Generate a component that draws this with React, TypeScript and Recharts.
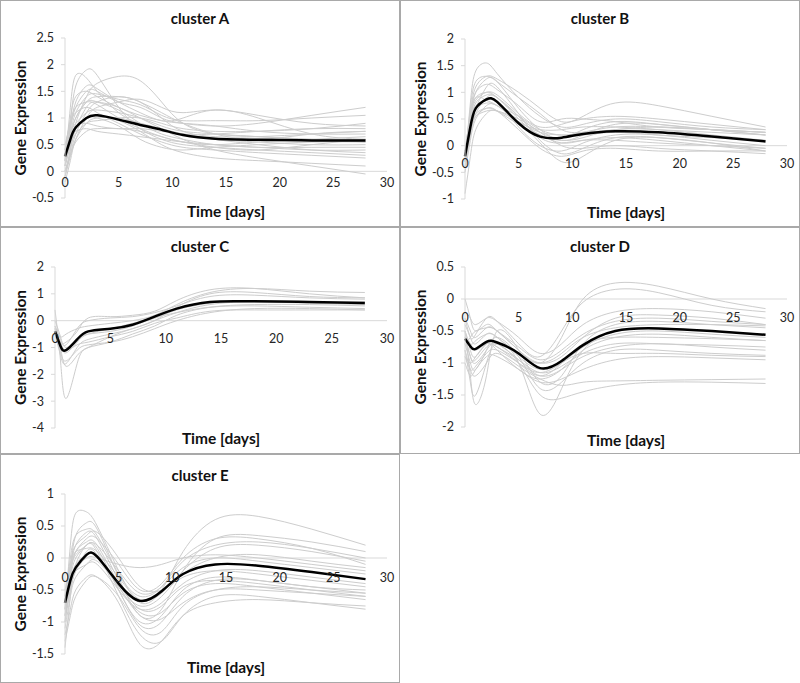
import { LineChart, Line, XAxis, YAxis, ReferenceLine, ReferenceDot } from "recharts";

// sampling days shared by every curve
const days = [0, 0.5, 1, 2, 3, 5, 7, 9, 11, 14, 18, 23, 28];
const dayTicks = [0, 5, 10, 15, 20, 25, 30];

// cluster A
const ticksA = [-0.5, 0, 0.5, 1, 1.5, 2, 2.5];
const meanA = [0.28, 0.6, 0.82, 1.0, 1.05, 0.97, 0.87, 0.78, 0.68, 0.61, 0.59, 0.58, 0.58];
const genesA = [
  [0.1, 0.9, 1.6, 1.9, 1.8, 1.2, 0.8, 0.6, 0.5, 0.45, 0.4, 0.35, 0.3],
  [0.2, 1.2, 1.8, 1.75, 1.5, 1.1, 0.9, 0.8, 0.7, 0.6, 0.55, 0.5, 0.5],
  [0, 0.4, 0.9, 1.4, 1.65, 1.78, 1.7, 1.3, 0.9, 0.7, 0.65, 0.6, 0.6],
  [0.3, 0.8, 1.2, 1.5, 1.5, 1.3, 1.2, 1.0, 0.9, 0.85, 0.9, 1.05, 1.2],
  [0.2, 0.7, 1.1, 1.4, 1.45, 1.35, 1.25, 1.05, 0.95, 0.95, 0.95, 1.0, 1.05],
  [-0.2, 0.2, 0.6, 1.0, 1.2, 1.3, 1.35, 1.2, 1.1, 1.15, 1.05, 0.9, 0.85],
  [0.1, 0.6, 1.0, 1.3, 1.3, 1.15, 0.9, 0.7, 0.6, 0.5, 0.45, 0.4, 0.4],
  [0.4, 0.9, 1.2, 1.3, 1.25, 1.0, 0.8, 0.65, 0.55, 0.5, 0.55, 0.6, 0.65],
  [0, 0.3, 0.6, 0.9, 1.0, 1.0, 0.9, 0.8, 0.7, 0.7, 0.75, 0.8, 0.8],
  [0.3, 0.7, 0.9, 1.1, 1.15, 1.1, 1.0, 0.85, 0.75, 0.7, 0.65, 0.6, 0.55],
  [0.5, 0.9, 1.1, 1.2, 1.1, 0.9, 0.7, 0.55, 0.45, 0.4, 0.35, 0.3, 0.25],
  [0.1, 0.5, 0.8, 1.0, 1.05, 0.95, 0.75, 0.5, 0.35, 0.25, 0.2, 0.15, 0.1],
  [0.2, 0.6, 0.85, 0.9, 0.85, 0.8, 0.8, 0.75, 0.7, 0.6, 0.5, 0.4, 0.35],
  [-0.1, 0.3, 0.7, 1.1, 1.3, 1.4, 1.3, 1.1, 0.9, 0.7, 0.6, 0.7, 0.75],
  [0.3, 0.6, 0.75, 0.8, 0.75, 0.7, 0.65, 0.6, 0.55, 0.5, 0.45, 0.45, 0.45],
  [0, 0.3, 0.55, 0.75, 0.8, 0.8, 0.75, 0.65, 0.55, 0.45, 0.4, 0.5, 0.6],
  [0.4, 1.0, 1.4, 1.5, 1.4, 1.2, 1.05, 0.95, 0.9, 0.85, 0.75, 0.7, 0.7],
  [0.2, 0.8, 1.3, 1.6, 1.55, 1.3, 1.1, 0.95, 1.0, 1.15, 1.0, 0.7, 0.6],
  [-0.1, 0.4, 0.8, 1.2, 1.3, 1.2, 1.0, 0.8, 0.6, 0.4, 0.25, 0.1, -0.05],
  [0.1, 0.5, 0.8, 1.0, 1.0, 0.85, 0.6, 0.45, 0.4, 0.45, 0.5, 0.55, 0.55],
  [0.3, 0.7, 1.0, 1.3, 1.4, 1.4, 1.3, 1.0, 0.75, 0.65, 0.65, 0.7, 0.75],
  [0.2, 0.5, 0.7, 0.9, 0.95, 1.0, 1.0, 0.9, 0.8, 0.75, 0.75, 0.8, 0.9],
];

// cluster B
const ticksB = [-1, -0.5, 0, 0.5, 1, 1.5, 2];
const meanB = [-0.2, 0.35, 0.7, 0.87, 0.82, 0.42, 0.17, 0.15, 0.22, 0.27, 0.25, 0.17, 0.08];
const genesB = [
  [-0.3, 0.8, 1.4, 1.55, 1.35, 0.9, 0.55, 0.35, 0.4, 0.5, 0.45, 0.35, 0.3],
  [-0.2, 0.6, 1.1, 1.3, 1.25, 1.0, 0.7, 0.45, 0.55, 0.8, 0.75, 0.55, 0.35],
  [-0.2, 0.5, 1.0, 1.25, 1.2, 0.7, 0.3, 0.1, 0.2, 0.4, 0.4, 0.3, 0.2],
  [-0.3, 0.3, 0.7, 1.1, 1.1, 0.6, 0.1, -0.15, -0.05, 0.15, 0.15, 0.05, -0.05],
  [-0.2, 0.4, 0.8, 0.95, 0.9, 0.5, 0.2, 0.1, 0.15, 0.3, 0.3, 0.25, 0.2],
  [-0.5, 0.1, 0.5, 0.75, 0.75, 0.45, 0.05, -0.3, -0.2, 0.1, 0.15, 0.05, -0.1],
  [-0.2, 0.3, 0.6, 0.7, 0.65, 0.4, 0.2, 0.05, 0.1, 0.15, 0.1, 0.0, -0.1],
  [-0.9, -0.2, 0.3, 0.6, 0.65, 0.45, 0.25, 0.2, 0.2, 0.25, 0.2, 0.15, 0.1],
  [-0.2, 0.5, 0.9, 1.0, 0.95, 0.6, 0.35, 0.4, 0.5, 0.55, 0.5, 0.4, 0.3],
  [-0.1, 0.6, 1.0, 1.15, 1.05, 0.75, 0.45, 0.5, 0.5, 0.45, 0.35, 0.3, 0.25],
  [-0.2, 0.3, 0.55, 0.65, 0.65, 0.5, 0.25, 0.0, -0.05, 0.0, -0.05, -0.1, -0.15],
  [-0.3, 0.4, 0.75, 0.85, 0.8, 0.35, 0.0, -0.1, 0.05, 0.2, 0.2, 0.1, 0.0],
  [-0.2, 0.7, 1.2, 1.3, 1.2, 0.9, 0.6, 0.3, 0.25, 0.3, 0.35, 0.3, 0.25],
  [-0.1, 0.5, 0.85, 1.0, 0.9, 0.55, 0.25, 0.15, 0.3, 0.45, 0.4, 0.3, 0.2],
  [-0.3, 0.2, 0.55, 0.7, 0.65, 0.3, -0.05, -0.2, -0.1, -0.05, -0.1, -0.1, -0.1],
  [-0.2, 0.5, 0.9, 0.85, 0.75, 0.45, 0.3, 0.3, 0.35, 0.35, 0.3, 0.2, 0.1],
  [-0.4, 0.2, 0.6, 0.9, 0.9, 0.55, 0.15, 0.05, 0.1, 0.1, 0.05, 0.0, -0.05],
  [-0.2, 0.4, 0.7, 0.8, 0.75, 0.55, 0.3, 0.2, 0.25, 0.35, 0.35, 0.3, 0.25],
];

// cluster C
const ticksC = [-4, -3, -2, -1, 0, 1, 2];
const meanC = [-0.4, -0.95, -1.1, -0.7, -0.4, -0.3, -0.15, 0.15, 0.45, 0.7, 0.72, 0.7, 0.66];
const genesC = [
  [0.4, -1.5, -2.9, -1.6, -1.0, -0.8, -0.5, -0.2, 0.2, 0.5, 0.6, 0.6, 0.55],
  [-0.2, -1.0, -1.7, -1.3, -1.0, -0.6, -0.3, 0.0, 0.5, 1.0, 1.05, 0.9, 0.85],
  [-0.3, -0.6, -0.5, -0.3, -0.2, -0.1, 0.0, 0.2, 0.6, 1.05, 1.2, 1.1, 1.05],
  [-0.4, -0.8, -0.8, -0.4, 0.1, 0.15, 0.2, 0.35, 0.75, 1.15, 1.2, 1.0, 0.85],
  [-0.5, -1.2, -1.5, -1.1, -0.9, -0.8, -0.6, -0.3, 0.0, 0.3, 0.45, 0.45, 0.4],
  [-0.3, -0.9, -1.2, -0.8, -0.5, -0.3, -0.1, 0.1, 0.4, 0.65, 0.75, 0.7, 0.7],
  [0.0, -0.6, -1.0, -0.7, -0.5, -0.4, -0.2, 0.1, 0.3, 0.5, 0.55, 0.5, 0.45],
  [-0.2, -0.7, -0.9, -0.3, 0.0, 0.1, 0.15, 0.3, 0.55, 0.9, 0.95, 0.85, 0.8],
  [-0.5, -1.3, -1.6, -1.0, -0.7, -0.5, -0.3, 0.0, 0.3, 0.6, 0.7, 0.65, 0.6],
  [-0.3, -0.8, -1.1, -0.9, -0.8, -0.6, -0.4, -0.1, 0.1, 0.35, 0.4, 0.4, 0.4],
];

// cluster D
const ticksD = [-2, -1.5, -1, -0.5, 0, 0.5];
const meanD = [-0.62, -0.74, -0.78, -0.67, -0.68, -0.85, -1.08, -0.97, -0.72, -0.5, -0.46, -0.5, -0.56];
const genesD = [
  [0.0, -0.3, -0.5, -0.4, -0.5, -0.8, -1.0, -0.6, 0.0, 0.25, 0.2, 0.0, -0.15],
  [-0.3, -0.6, -0.55, -0.3, -0.35, -0.7, -0.9, -0.5, -0.05, 0.15, 0.1, -0.1, -0.2],
  [-0.5, -1.2, -1.65, -1.2, -0.5, -0.8, -1.3, -1.2, -0.7, -0.4, -0.35, -0.4, -0.45],
  [-0.8, -1.3, -1.5, -1.0, -0.7, -1.0, -1.8, -1.4, -0.8, -0.5, -0.45, -0.5, -0.55],
  [-0.6, -0.9, -1.0, -0.8, -0.7, -1.0, -1.5, -1.55, -1.45, -1.35, -1.3, -1.3, -1.32],
  [-0.7, -0.6, -0.5, -0.45, -0.5, -0.8, -1.0, -0.9, -0.6, -0.3, -0.25, -0.3, -0.4],
  [-0.9, -1.0, -0.9, -0.7, -0.7, -0.95, -1.2, -1.1, -0.9, -0.75, -0.7, -0.75, -0.8],
  [-0.4, -0.6, -0.7, -0.55, -0.6, -0.85, -1.0, -0.85, -0.6, -0.45, -0.4, -0.4, -0.42],
  [-0.5, -0.8, -0.9, -0.7, -0.75, -0.95, -1.15, -1.05, -0.85, -0.7, -0.7, -0.72, -0.75],
  [-1.0, -1.2, -1.1, -0.9, -0.9, -1.1, -1.3, -1.25, -1.1, -0.95, -0.9, -0.92, -0.95],
  [-0.2, -0.3, -0.4, -0.3, -0.35, -0.6, -0.85, -0.7, -0.4, -0.2, -0.15, -0.2, -0.3],
  [-0.6, -0.7, -0.8, -0.7, -0.8, -1.1, -1.25, -1.1, -0.8, -0.6, -0.55, -0.6, -0.65],
  [-0.7, -1.0, -1.1, -0.8, -0.6, -0.9, -1.4, -1.3, -1.0, -0.8, -0.8, -0.85, -0.88],
  [-0.3, -0.5, -0.6, -0.45, -0.5, -0.75, -0.95, -0.8, -0.55, -0.35, -0.3, -0.35, -0.4],
  [-0.8, -1.1, -1.2, -1.0, -0.85, -1.05, -1.25, -1.35, -1.3, -1.28, -1.27, -1.26, -1.25],
  [-0.5, -0.7, -0.65, -0.55, -0.6, -0.9, -1.1, -1.0, -0.75, -0.55, -0.5, -0.55, -0.6],
  [-0.6, -0.9, -0.95, -0.75, -0.75, -1.0, -1.2, -1.0, -0.7, -0.6, -0.6, -0.62, -0.65],
  [-0.9, -1.1, -1.05, -0.85, -0.8, -1.0, -1.15, -1.0, -0.85, -0.85, -0.85, -0.88, -0.9],
];

// cluster E
const ticksE = [-1.5, -1, -0.5, 0, 0.5, 1];
const meanE = [-0.7, -0.35, -0.15, 0.05, 0.02, -0.4, -0.67, -0.52, -0.25, -0.1, -0.12, -0.22, -0.33];
const genesE = [
  [-0.8, 0.2, 0.7, 0.72, 0.5, -0.2, -0.7, -0.5, 0.1, 0.6, 0.65, 0.45, 0.2],
  [-1.0, -0.2, 0.35, 0.55, 0.45, -0.3, -0.9, -0.8, -0.2, 0.3, 0.35, 0.25, 0.1],
  [-0.6, -0.2, 0.1, 0.3, 0.3, -0.1, -0.5, -0.4, 0.0, 0.3, 0.3, 0.15, -0.1],
  [-1.4, -0.6, -0.1, 0.2, 0.1, -0.6, -1.2, -1.3, -0.9, -0.6, -0.6, -0.7, -0.8],
  [-0.9, -0.5, -0.2, 0.0, 0.0, -0.1, -0.15, -0.1, 0.0, 0.05, 0.0, -0.1, -0.2],
  [-0.7, -0.3, 0.0, 0.2, 0.15, -0.5, -1.0, -0.9, -0.5, -0.3, -0.35, -0.45, -0.55],
  [-0.8, -0.4, -0.2, -0.1, -0.1, -0.5, -0.8, -0.7, -0.4, -0.2, -0.2, -0.3, -0.4],
  [-1.2, -0.8, -0.5, -0.3, -0.3, -0.7, -1.35, -1.3, -0.9, -0.7, -0.65, -0.7, -0.75],
  [-0.6, 0.0, 0.35, 0.45, 0.35, -0.25, -0.6, -0.45, -0.05, 0.2, 0.25, 0.15, 0.0],
  [-0.9, -0.3, 0.1, 0.25, 0.2, -0.4, -0.75, -0.6, -0.25, 0.0, 0.05, -0.05, -0.15],
  [-0.7, -0.1, 0.2, 0.35, 0.4, 0.0, -0.45, -0.5, -0.3, -0.2, -0.25, -0.35, -0.45],
  [-1.1, -0.6, -0.3, -0.1, -0.05, -0.45, -0.9, -0.95, -0.7, -0.5, -0.5, -0.55, -0.6],
  [-0.5, -0.1, 0.1, 0.15, 0.1, -0.3, -0.65, -0.55, -0.2, 0.15, 0.2, 0.1, -0.05],
  [-0.8, -0.2, 0.2, 0.4, 0.3, -0.35, -0.8, -0.75, -0.45, -0.35, -0.4, -0.5, -0.6],
  [-1.0, -0.5, -0.2, 0.1, 0.05, -0.5, -1.05, -1.0, -0.6, -0.35, -0.35, -0.45, -0.5],
  [-0.7, -0.2, 0.05, 0.2, 0.2, -0.2, -0.55, -0.45, -0.15, 0.0, -0.05, -0.15, -0.25],
  [-0.9, -0.4, -0.1, 0.05, 0.0, -0.45, -0.85, -0.85, -0.55, -0.4, -0.45, -0.55, -0.65],
  [-1.3, -0.9, -0.6, -0.35, -0.3, -0.6, -1.1, -1.15, -0.75, -0.5, -0.45, -0.5, -0.55],
];

const AXIS_GREY = "#d9d9d9";
const TEXT = "#262626";

interface PanelProps {
  title: string;
  mean: number[];
  genes: number[][];
  yTicks: number[];
  x: number;
  y: number;
  h?: number;
  plotLeft: number;
  plotTop: number;
  plotBottom: number;
  xTickGap: number;
  xLabelGap: number;
  titleY: number;
}

function ClusterPanel(p: PanelProps) {
  const boxH = p.h ?? 227;
  const chartH = boxH - 2;
  const rows = days.map((t, i) => {
    const row: Record<string, number> = { t, mean: p.mean[i] };
    p.genes.forEach((g, j) => {
      row["g" + j] = g[i];
    });
    return row;
  });
  const yMin = p.yTicks[0];
  const yMax = p.yTicks[p.yTicks.length - 1];

  return (
    <div
      style={{
        position: "absolute",
        left: p.x,
        top: p.y,
        width: 400,
        height: boxH,
        boxSizing: "border-box",
        border: "1px solid #a9a9a9",
      }}
    >
      <div
        style={{
          position: "absolute",
          left: 0,
          width: 398,
          top: p.titleY - 10,
          textAlign: "center",
          fontWeight: 700,
          fontSize: 15,
          lineHeight: "18px",
          color: "#111",
        }}
      >
        {p.title}
      </div>
      <div style={{ position: "absolute", left: 0, top: 0 }}>
        <LineChart
          width={398}
          height={chartH}
          data={rows}
          margin={{ top: p.plotTop, right: 12, bottom: 0, left: 0 }}
        >
          <XAxis
            dataKey="t"
            type="number"
            domain={[0, 30]}
            ticks={dayTicks}
            tick={false}
            tickLine={false}
            axisLine={false}
            height={chartH - p.plotBottom}
            label={{
              value: "Time [days]",
              position: "insideTop",
              offset: p.xLabelGap,
              fill: "#111",
              fontSize: 15.5,
              fontWeight: 700,
            }}
          />
          <YAxis
            type="number"
            domain={[yMin, yMax]}
            ticks={p.yTicks}
            width={p.plotLeft}
            axisLine={{ stroke: AXIS_GREY }}
            tickLine={{ stroke: AXIS_GREY }}
            tickSize={4}
            tickMargin={7}
            tick={{ fill: TEXT, fontSize: 12.5 }}
            label={{
              value: "Gene Expression",
              angle: -90,
              position: "insideLeft",
              offset: 19,
              fill: "#111",
              fontSize: 15.5,
              fontWeight: 700,
              style: { textAnchor: "middle" },
            }}
          />
          <ReferenceLine y={0} stroke={AXIS_GREY} strokeWidth={1} />
          {dayTicks.map((d) => (
            <ReferenceDot
              key={d}
              x={d}
              y={0}
              r={1}
              fill="none"
              stroke="none"
              label={{
                value: String(d),
                position: "bottom",
                offset: p.xTickGap - 6,
                fill: TEXT,
                fontSize: 12.5,
              }}
            />
          ))}
          {p.genes.map((_, j) => (
            <Line
              key={j}
              type="natural"
              dataKey={"g" + j}
              stroke="#cdcdcd"
              strokeWidth={1}
              dot={false}
              isAnimationActive={false}
            />
          ))}
          <Line
            type="natural"
            dataKey="mean"
            stroke="#000"
            strokeWidth={2.5}
            dot={false}
            isAnimationActive={false}
          />
        </LineChart>
      </div>
    </div>
  );
}

export default function App() {
  return (
    <div
      style={{
        position: "absolute",
        left: 0,
        top: 0,
        width: 800,
        height: 683,
        background: "#fff",
        fontFamily: "Lato, 'Open Sans', sans-serif",
      }}
    >
      <ClusterPanel title="cluster A" mean={meanA} genes={genesA} yTicks={ticksA}
        x={0} y={0} plotLeft={64} plotTop={37} plotBottom={197}
        xTickGap={12} xLabelGap={8} titleY={18} />
      <ClusterPanel title="cluster B" mean={meanB} genes={genesB} yTicks={ticksB}
        x={400} y={0} plotLeft={64} plotTop={38} plotBottom={198}
        xTickGap={18} xLabelGap={8} titleY={18} />
      <ClusterPanel title="cluster C" mean={meanC} genes={genesC} yTicks={ticksC}
        x={0} y={227} plotLeft={54} plotTop={39} plotBottom={200}
        xTickGap={18} xLabelGap={5} titleY={19} />
      <ClusterPanel title="cluster D" mean={meanD} genes={genesD} yTicks={ticksD}
        x={400} y={227} plotLeft={64} plotTop={39} plotBottom={199}
        xTickGap={19} xLabelGap={8} titleY={19} />
      <ClusterPanel title="cluster E" mean={meanE} genes={genesE} yTicks={ticksE}
        x={0} y={454} h={229} plotLeft={64} plotTop={39} plotBottom={199}
        xTickGap={20} xLabelGap={8} titleY={21} />
    </div>
  );
}
